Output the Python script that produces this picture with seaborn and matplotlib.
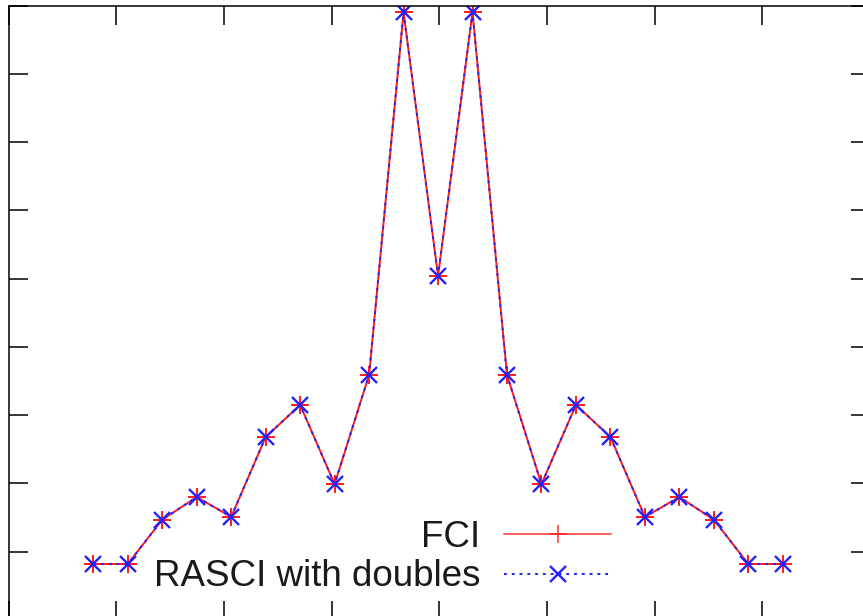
import numpy as np
import pandas as pd
import matplotlib
matplotlib.use("Agg")
import matplotlib.pyplot as plt
import seaborn as sns

# Datos (eje x: indice del punto, eje y: unidades de tick)
puntos = [-10, -9, -8, -7, -6, -5, -4, -3, -2, -1, 0,
          1, 2, 3, 4, 5, 6, 7, 8, 9, 10]
fci = [0.82, 0.82, 1.47, 1.80, 1.51, 2.68, 3.15, 1.99, 3.59, 8.90, 5.04,
       8.90, 3.59, 1.99, 3.15, 2.68, 1.51, 1.80, 1.47, 0.82, 0.82]
rasci = [0.82, 0.82, 1.47, 1.80, 1.51, 2.68, 3.15, 1.99, 3.59, 8.90, 5.04,
         8.90, 3.59, 1.99, 3.15, 2.68, 1.51, 1.80, 1.47, 0.82, 0.82]
etiquetas = ["FCI", "RASCI with doubles"]

ROJO = '#ff1a1a'
AZUL = '#2222ff'


def setStyle_design():
    sns.set_style("white")
    plt.rcParams['font.family'] = ['Liberation Sans', 'DejaVu Sans']


def graficar(df):
    fig = plt.figure(figsize=(8.63, 6.16), dpi=100)
    # el recuadro original queda recortado por la derecha y por abajo
    ax = fig.add_axes([8.5 / 863, -4 / 616, 861.5 / 863, 614.5 / 616])

    sns.lineplot(data=df, x='x', y='fci', ax=ax, color=ROJO,
                 linewidth=1.4, marker='+', markersize=13, markeredgewidth=1.4,
                 markeredgecolor=ROJO, label=etiquetas[0])
    sns.lineplot(data=df, x='x', y='rasci', ax=ax, color=AZUL,
                 linewidth=1.4, linestyle=(0, (1.5, 2.5)), marker='x',
                 markersize=11.5, markeredgewidth=1.7, markeredgecolor=AZUL,
                 label=etiquetas[1])

    xmin, xmax = -12.46, 12.53
    ax.set_xlim(xmin, xmax)
    ax.set_ylim(0, 9)
    ax.set_xticks(np.linspace(xmin, xmax, 9))
    ax.set_yticks(range(10))
    ax.set_xticklabels([])
    ax.set_yticklabels([])
    ax.set_xlabel('')
    ax.set_ylabel('')
    ax.tick_params(direction='in', length=13.5, width=1.1, top=True,
                   right=True, bottom=True, left=True, color='black')
    for s in ax.spines.values():
        s.set_visible(True)
        s.set_color('black')
        s.set_linewidth(1.1)

    leg = ax.legend(loc='lower right', bbox_to_anchor=(0.708, 0.035),
                    bbox_transform=fig.transFigure, frameon=False,
                    markerfirst=False, fontsize=26.5, handlelength=2.9,
                    handletextpad=0.65, labelspacing=0.12, borderpad=0,
                    borderaxespad=0)
    for t in leg.get_texts():
        t.set_color('#1a1a1a')
    leg.get_lines()[0].set_alpha(0.7)

    fig.savefig('out.png', dpi=100)


def main():
    setStyle_design()
    df = pd.DataFrame({'x': puntos, 'fci': fci, 'rasci': rasci})
    graficar(df)


if __name__ == '__main__':
    main()
